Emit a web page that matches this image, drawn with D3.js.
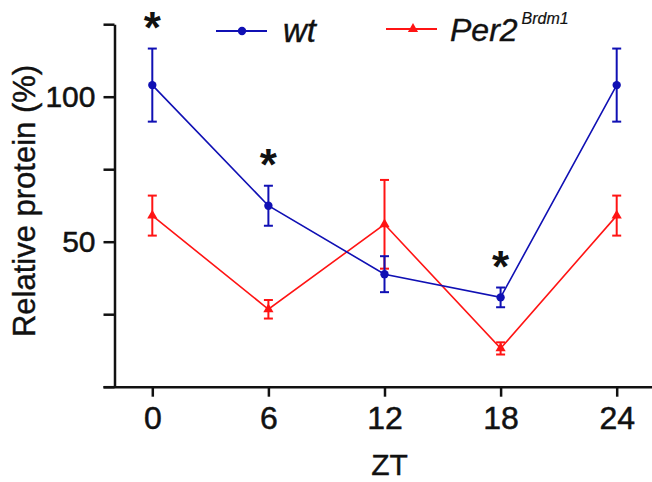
<!DOCTYPE html>
<html>
<head>
<meta charset="utf-8">
<script src="https://cdn.jsdelivr.net/npm/d3@7"></script>
<style>
  body { margin: 0; background: #fff; }
  text { font-family: "Liberation Sans", Arial, sans-serif; }
</style>
</head>
<body>
<div id="chart"></div>
<script>
// data
var zt = [0, 6, 12, 18, 24];
var wtMean = [104, 62.4, 38.8, 30.8, 104];
var wtErr = [12.6, 6.9, 6.2, 3.4, 12.6];
var perMean = [59, 26.7, 56, 13.2, 59];
var perErr = [6.9, 3.2, 15.3, 2.1, 6.9];
var starZT = [0, 6, 18];
var yTicks = [0, 25, 50, 75, 100, 125];
var yLabels = [50, 100];

var svgWidth = 652;
var svgHeight = 482;

var blue = "#1010b4";
var red = "#ff1414";
var ink = "#111";

var svg = d3.select("#chart")
    .append("svg")
    .attr("width", svgWidth)
    .attr("height", svgHeight);

// scales
var x = d3.scaleLinear().domain([0, 24]).range([152.3, 616.7]);
var y = d3.scaleLinear().domain([0, 125]).range([386.7, 24.2]);

// x axis drawn on a wider scale so the baseline runs past the y axis
var xAxisScale = d3.scaleLinear()
    .domain([x.invert(103), x.invert(652)])
    .range([103, 652]);

var xAxis = svg.append("g")
    .attr("transform", "translate(0," + y(0) + ")")
    .call(d3.axisBottom(xAxisScale)
        .tickValues(zt)
        .tickSize(10)
        .tickSizeOuter(0)
        .tickPadding(10)
        .tickFormat(d3.format("d")));

var yAxis = svg.append("g")
    .attr("transform", "translate(114.5,0)")
    .call(d3.axisLeft(y)
        .tickValues(yTicks)
        .tickSize(11)
        .tickSizeOuter(0)
        .tickPadding(8)
        .tickFormat(function (d) { return yLabels.indexOf(d) >= 0 ? d : ""; }));

[xAxis, yAxis].forEach(function (g) {
    g.selectAll("path, line").attr("stroke", ink).attr("stroke-width", 2.5);
    g.selectAll("text").attr("fill", ink).attr("stroke", ink).attr("stroke-width", 0.5);
});
xAxis.selectAll("text").style("font-size", "32px");
yAxis.selectAll("text").style("font-size", "30px");

// axis titles
svg.append("text")
    .attr("x", x(12) + 5)
    .attr("y", 475)
    .attr("text-anchor", "middle")
    .style("font-size", "30px")
    .attr("fill", ink).attr("stroke", ink).attr("stroke-width", 0.4)
    .text("ZT");

svg.append("text")
    .attr("transform", "translate(35,201) rotate(-90)")
    .attr("text-anchor", "middle")
    .style("font-size", "31px")
    .attr("fill", ink).attr("stroke", ink).attr("stroke-width", 0.4)
    .text("Relative protein (%)");

function drawSeries(mean, err, color, marker) {
    var pts = zt.map(function (t, i) { return { t: t, m: mean[i], e: err[i] }; });

    var line = d3.line()
        .x(function (d) { return x(d.t); })
        .y(function (d) { return y(d.m); });

    svg.append("path")
        .datum(pts)
        .attr("d", line)
        .attr("fill", "none")
        .attr("stroke", color)
        .attr("stroke-width", 1.6);

    var eb = svg.append("g").selectAll("g")
        .data(pts)
        .enter()
        .append("g")
        .attr("stroke", color)
        .attr("stroke-width", 2);

    eb.append("line")
        .attr("x1", function (d) { return x(d.t); })
        .attr("x2", function (d) { return x(d.t); })
        .attr("y1", function (d) { return y(d.m + d.e); })
        .attr("y2", function (d) { return y(d.m - d.e); });
    [1, -1].forEach(function (s) {
        eb.append("line")
            .attr("x1", function (d) { return x(d.t) - 4.5; })
            .attr("x2", function (d) { return x(d.t) + 4.5; })
            .attr("y1", function (d) { return y(d.m + s * d.e); })
            .attr("y2", function (d) { return y(d.m + s * d.e); });
    });

    svg.append("g").selectAll("path")
        .data(pts)
        .enter()
        .append("path")
        .attr("transform", function (d) { return "translate(" + x(d.t) + "," + y(d.m) + ")"; })
        .attr("d", d3.symbol().type(marker).size(marker === d3.symbolCircle ? 55 : 45))
        .attr("fill", color);
}

drawSeries(perMean, perErr, red, d3.symbolTriangle);
drawSeries(wtMean, wtErr, blue, d3.symbolCircle);

// significance stars above the wt error bars
svg.append("g").selectAll("text")
    .data(starZT)
    .enter()
    .append("text")
    .attr("x", function (d) { return x(d); })
    .attr("y", function (d) {
        var i = zt.indexOf(d);
        return y(wtMean[i] + wtErr[i]) - 6;
    })
    .attr("text-anchor", "middle")
    .style("font-size", "44px")
    .style("font-weight", "bold")
    .attr("fill", ink)
    .text("*");

// legend
var leg = svg.append("g");
leg.append("line").attr("x1", 216).attr("x2", 267).attr("y1", 31).attr("y2", 31)
    .attr("stroke", blue).attr("stroke-width", 2);
leg.append("path").attr("transform", "translate(242,31)")
    .attr("d", d3.symbol().type(d3.symbolCircle).size(55)).attr("fill", blue);
leg.append("text").attr("x", 283).attr("y", 42)
    .style("font-size", "33px").style("font-style", "italic")
    .attr("fill", ink).attr("stroke", ink).attr("stroke-width", 0.4).text("wt");

leg.append("line").attr("x1", 386).attr("x2", 437).attr("y1", 29).attr("y2", 29)
    .attr("stroke", red).attr("stroke-width", 2);
leg.append("path").attr("transform", "translate(413,29)")
    .attr("d", d3.symbol().type(d3.symbolTriangle).size(45)).attr("fill", red);
var perText = leg.append("text").attr("x", 450).attr("y", 41)
    .style("font-size", "32px").style("font-style", "italic")
    .attr("fill", ink).attr("stroke", ink).attr("stroke-width", 0.4);
perText.append("tspan").text("Per2");
perText.append("tspan").attr("dx", 4).attr("dy", -17).style("font-size", "16px")
    .attr("stroke-width", 0.2).text("Brdm1");
</script>
</body>
</html>
